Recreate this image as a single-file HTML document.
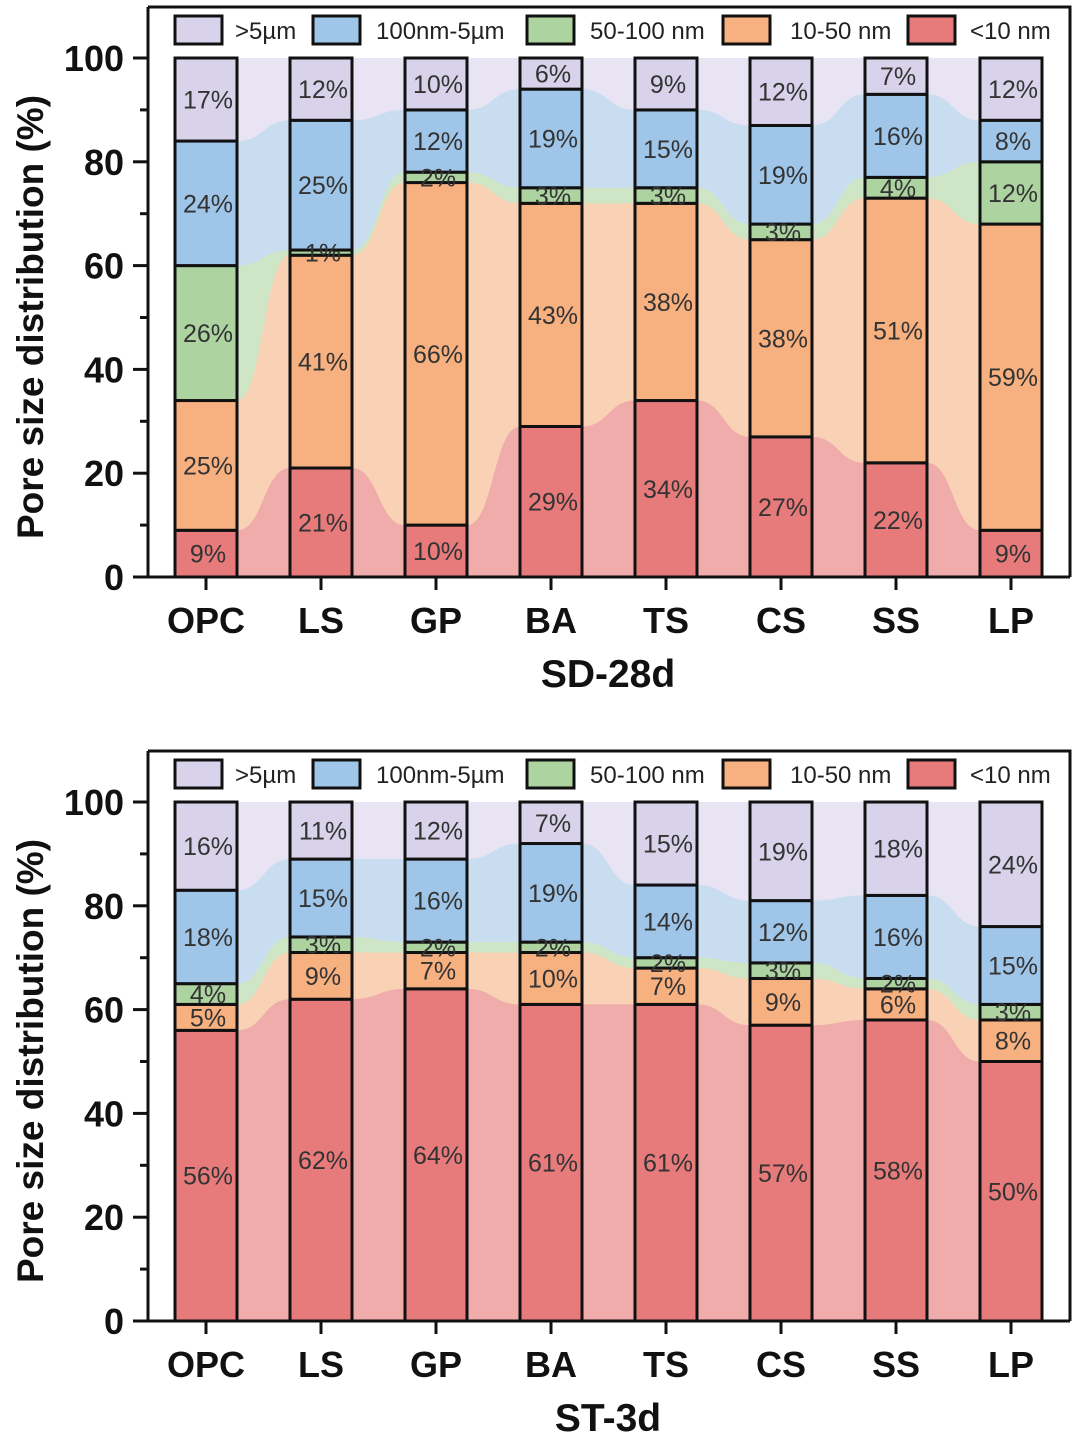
<!DOCTYPE html>
<html><head><meta charset="utf-8"><style>
body{margin:0;background:#fff}
svg{display:block;font-family:"Liberation Sans",Arial,sans-serif}
</style></head><body>
<svg id="s" width="1080" height="1439" viewBox="0 0 1080 1439"></svg>
<script>
const categories=["OPC","LS","GP","BA","TS","CS","SS","LP"];
const seriesNames=[">5\u00b5m","100nm-5\u00b5m","50-100 nm","10-50 nm","<10 nm"];
const sd_lt10=[9,21,10,29,34,27,22,9];
const sd_10_50=[25,41,66,43,38,38,51,59];
const sd_50_100=[26,1,2,3,3,3,4,12];
const sd_100nm_5um=[24,25,12,19,15,19,16,8];
const sd_gt5=[17,12,10,6,9,12,7,12];
const st_lt10=[56,62,64,61,61,57,58,50];
const st_10_50=[5,9,7,10,7,9,6,8];
const st_50_100=[4,3,2,2,2,3,2,3];
const st_100nm_5um=[18,15,16,19,14,12,16,15];
const st_gt5=[16,11,12,7,15,19,18,24];
const yTicks=[0,20,40,60,80,100];

const NS="http://www.w3.org/2000/svg";
const svg=document.getElementById('s');
const barCol=["#d8d2ea","#9fc5e8","#acd3a0","#f7b07f","#e77b7b"];
const bgCol=["#e8e4f3","#c9ddf0","#cfe6c6","#f9d2b6","#f0abab"];
function mk(tag,attrs,parent,text){const e=document.createElementNS(NS,tag);for(const k in attrs)e.setAttribute(k,attrs[k]);if(text!==undefined)e.textContent=text;(parent||svg).appendChild(e);return e;}

function chart(off,title,layers){
  const g=mk('g',{});
  
  
  const y0=577+off, sc=5.19, L=148, R=1070, T=7+off;
  const Y=v=>y0-v*sc;
  const X=i=>206+i*115;
  const hw=31;
  const n=categories.length;
  const cum=[];
  for(let k=0;k<5;k++){cum.push(categories.map((c,i)=>(k?cum[k-1][i]:0)+layers[k][i]));}
  for(let i=0;i<n;i++)cum[4][i]=100;
  for(let k=4;k>=0;k--){
    let d='M'+(X(0)-hw)+','+y0+' L'+(X(0)-hw)+','+Y(cum[k][0]);
    for(let i=0;i<n;i++){
      d+=' L'+(X(i)+hw)+','+Y(cum[k][i]);
      if(i<n-1){const x1=X(i)+hw,x2=X(i+1)-hw,m=(x1+x2)/2;
        d+=' C'+m+','+Y(cum[k][i])+' '+m+','+Y(cum[k][i+1])+' '+x2+','+Y(cum[k][i+1]);}
    }
    d+=' L'+(X(n-1)+hw)+','+y0+' Z';
    const p=mk('path',{d:d,fill:bgCol[4-k]},g);
    
    
  }
  for(let i=0;i<n;i++){
    for(let k=0;k<5;k++){
      const lo=k?cum[k-1][i]:0, hi=cum[k][i];
      const r=mk('rect',{x:X(i)-hw,y:Y(hi),width:2*hw,height:Y(lo)-Y(hi),fill:barCol[4-k],stroke:'#111','stroke-width':3},g);
      
      
    }
    for(let k=0;k<5;k++){
      const lo=k?cum[k-1][i]:0, hi=cum[k][i];
      const t=mk('text',{x:X(i)+2,y:(Y(lo)+Y(hi))/2+9,'text-anchor':'middle','font-size':25,fill:'#333'},g,layers[k][i]+'%');
      
      
    }
  }
  mk('path',{d:`M${L},${T} H${R} V${y0} M${L},${T} V${y0} H${R}`,fill:'none',stroke:'#111','stroke-width':3},g);
  for(let v=0;v<=100;v+=10){const major=v%20===0;mk('line',{x1:L-(major?15:8),x2:L,y1:Y(v),y2:Y(v),stroke:'#111','stroke-width':3},g);}
  yTicks.forEach(v=>{const t=mk('text',{x:124,y:Y(v)+13,'text-anchor':'end','font-size':36,'font-weight':'bold',fill:'#111'},g,v);
    });
  categories.forEach((c,i)=>{mk('line',{x1:X(i),x2:X(i),y1:y0,y2:y0+13,stroke:'#111','stroke-width':3},g);
    const t=mk('text',{x:X(i),y:y0+56,'text-anchor':'middle','font-size':36,'font-weight':'bold',fill:'#111'},g,c);
    });
  const yt=mk('text',{x:0,y:0,transform:`translate(43,${(T+y0)/2+25}) rotate(-90)`,'text-anchor':'middle','font-size':37,'font-weight':'bold',fill:'#111'},g,'Pore size distribution (%)');
  
  const xt=mk('text',{x:608,y:y0+110,'text-anchor':'middle','font-size':39,'font-weight':'bold',fill:'#111'},g,title);
  
  const lx=[175,313,527,723,908], tx=[235,376,590,790,970];
  seriesNames.forEach((s,j)=>{
    const r=mk('rect',{x:lx[j],y:16+off,width:47,height:28,fill:barCol[j],stroke:'#111','stroke-width':3},g);
    
    const t=mk('text',{x:tx[j],y:39+off,'font-size':24,fill:'#222'},g,s);
    
  });
}
chart(0,'SD-28d',[sd_lt10,sd_10_50,sd_50_100,sd_100nm_5um,sd_gt5]);
chart(744,'ST-3d',[st_lt10,st_10_50,st_50_100,st_100nm_5um,st_gt5]);
</script>
</body></html>
